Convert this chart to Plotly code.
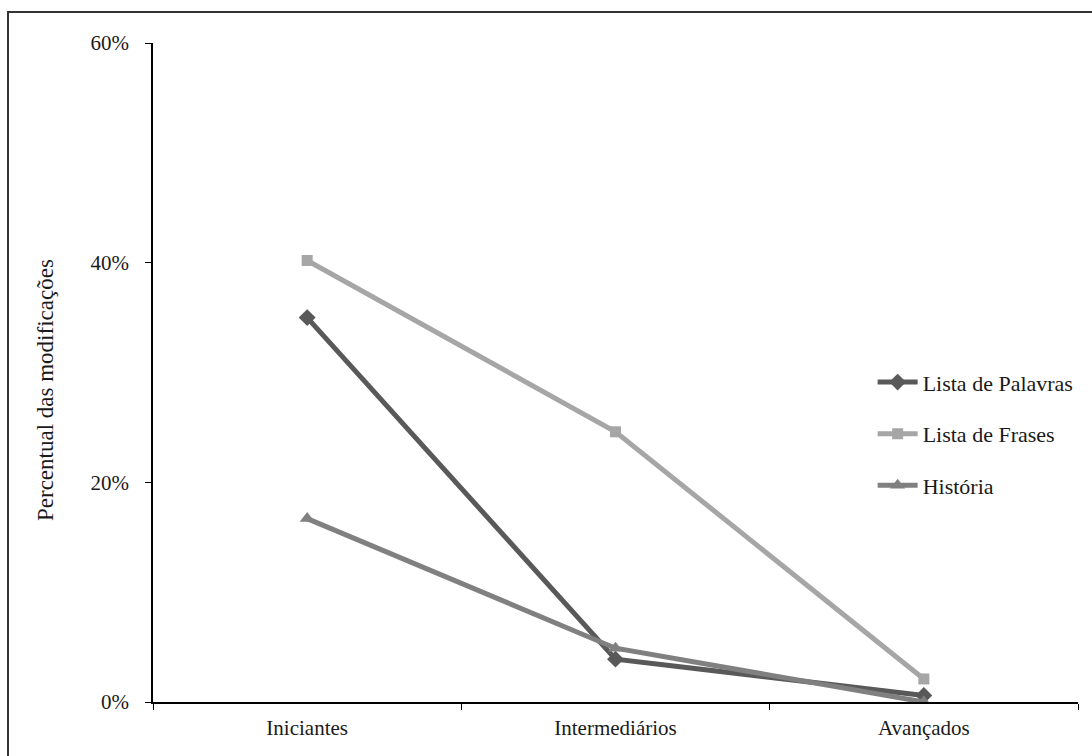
import plotly.graph_objects as go

# Skill levels on the x axis
grupos = ["Iniciantes", "Intermediários", "Avançados"]

# Share of modifications (fraction) per reading material
lista_palavras = [0.350, 0.039, 0.006]
lista_frases = [0.402, 0.246, 0.021]
historia = [0.167, 0.049, 0.000]

y_ticks = [0, 0.2, 0.4, 0.6]
y_tick_labels = ["0%", "20%", "40%", "60%"]

FONT = "Liberation Serif"
TXT = "#1a1a1a"

series = [
    ("Lista de Palavras", lista_palavras, "#595959", "diamond", 13),
    ("Lista de Frases", lista_frases, "#a6a6a6", "square", 11),
    ("História", historia, "#808080", "triangle-up", 13),
]

fig = go.Figure()
for i, (name, vals, color, symbol, msize) in enumerate(series):
    fig.add_trace(go.Scatter(
        x=grupos, y=vals, name=name, mode="lines+markers",
        line=dict(color=color, width=5),
        marker=dict(symbol=symbol, size=msize, color=color),
        legendgroup=f"g{i}",
    ))

fig.update_layout(
    width=1092, height=756,
    margin=dict(l=153, r=14, t=43, b=54),
    paper_bgcolor="white", plot_bgcolor="white",
    font=dict(family=FONT, size=21, color=TXT),
    showlegend=True,
    legend=dict(
        x=0.778, y=0.517, xanchor="left", yanchor="top",
        bgcolor="rgba(0,0,0,0)", font=dict(size=22, family=FONT, color=TXT),
        tracegroupgap=20, itemwidth=40,
    ),
    xaxis=dict(
        type="category", range=[-0.5, 2.5],
        showline=True, linecolor="black", linewidth=1.5,
        ticks="outside", tickson="boundaries", ticklen=6, tickcolor="black",
        ticklabelstandoff=6,
        showgrid=False, zeroline=False,
        tickfont=dict(size=21, family=FONT, color=TXT),
    ),
    yaxis=dict(
        range=[0, 0.6], tickvals=y_ticks, ticktext=y_tick_labels,
        showline=True, linecolor="black", linewidth=1.5,
        ticks="outside", ticklen=6, tickcolor="black",
        ticklabelstandoff=12,
        showgrid=False, zeroline=False,
        tickfont=dict(size=21, family=FONT, color=TXT),
    ),
    annotations=[dict(
        text="Percentual das modificações", textangle=-90,
        xref="paper", yref="paper", x=(45 - 153) / 925, y=(702 - 390) / 659,
        xanchor="center", yanchor="middle", showarrow=False,
        font=dict(size=23, family=FONT, color=TXT),
    )],
    shapes=[dict(
        type="rect", xref="paper", yref="paper",
        x0=(8 - 153) / 925, x1=1.2, y0=-0.3, y1=1 + (43 - 12) / 659,
        line=dict(color="#333", width=2), fillcolor="rgba(0,0,0,0)", layer="below",
    )],
)

fig.write_html("out.html")
